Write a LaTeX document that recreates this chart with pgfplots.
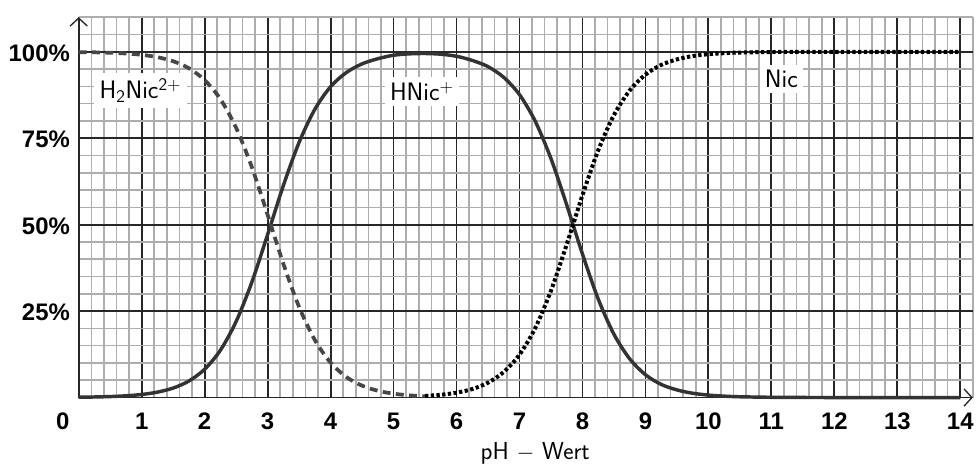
\documentclass[border=0pt]{standalone}
\usepackage{fontspec}
\setmainfont{Liberation Sans}
\usepackage{pgfplots}
\pgfplotsset{compat=1.18}
\usetikzlibrary{arrows.meta}

% fractions of the three nicotine species (in %)
\pgfplotstableread{
ph   val
0    99.9
0.25 99.84
0.5  99.72
0.75 99.5
1    99.12
1.25 98.44
1.5  97.26
1.75 95.23
2    91.82
2.25 86.32
2.5  78.01
2.75 66.61
3    52.87
3.25 38.69
3.5  26.19
3.75 16.63
4    10.09
4.25 5.94
4.5  3.43
4.75 1.96
5    1.11
5.25 0.63
5.5  0.35
}\dataHH

\pgfplotstableread{
ph   val
0    0.09
0.25 0.16
0.5  0.28
0.75 0.5
1    0.88
1.25 1.56
1.5  2.74
1.75 4.77
2    8.18
2.25 13.68
2.5  21.99
2.75 33.39
3    47.13
3.25 61.31
3.5  73.81
3.75 83.37
4    89.9
4.25 94.0
4.5  96.5
4.75 98.0
5    99.0
5.25 99.4
5.5  99.5
5.75 99.3
6    98.7
6.25 97.5
6.5  95.7
6.75 92.6
7    87.6
7.25 79.9
7.5  69.1
7.75 55.7
8    41.5
8.25 28.5
8.5  18.3
8.75 11.2
9    6.6
9.25 3.8
9.5  2.2
9.75 1.24
10   0.7
10.25 0.4
10.5 0.22
11   0.07
11.5 0.02
12   0.0
13   0.0
14   0.0
}\dataH

\pgfplotstableread{
ph   val
5.5  0.45
5.75 0.79
6    1.4
6.25 2.45
6.5  4.3
6.75 7.4
7    12.4
7.25 20.1
7.5  30.9
7.75 44.3
8    58.5
8.25 71.5
8.5  81.7
8.75 88.8
9    93.4
9.25 96.2
9.5  97.8
9.75 98.76
10   99.3
10.25 99.6
10.5 99.78
11   99.93
11.5 99.98
12   100
13   100
14   100
}\dataN

\begin{document}
\begin{tikzpicture}
\path (-59.25pt,-45pt) rectangle (674.25pt,299.25pt);
\begin{axis}[
  at={(0,0)}, anchor=south west,
  scale only axis, width=673.1pt, height=286.3pt,
  xmin=0, xmax=14.2, ymin=0, ymax=110,
  axis lines=left,
  axis line style={line width=1.3pt, black!85},
  x axis line style={-{Straight Barb[length=6pt,width=13pt,line width=1pt]}},
  y axis line style={-{Straight Barb[length=6pt,width=13pt,line width=1pt]}},
  xtick={0,...,14},
  xticklabels={\makebox[0pt][r]{0\hspace{7pt}},1,2,3,4,5,6,7,8,9,10,11,12,13,14},
  ytick={25,50,75,100},
  yticklabels={25\%,50\%,75\%,100\%},
  minor xtick={0.2,0.4,0.6,0.8,1.2,1.4,1.6,1.8,2.2,2.4,2.6,2.8,3.2,3.4,3.6,3.8,
    4.2,4.4,4.6,4.8,5.2,5.4,5.6,5.8,6.2,6.4,6.6,6.8,7.2,7.4,7.6,7.8,
    8.2,8.4,8.6,8.8,9.2,9.4,9.6,9.8,10.2,10.4,10.6,10.8,11.2,11.4,11.6,11.8,
    12.2,12.4,12.6,12.8,13.2,13.4,13.6,13.8,14.2},
  minor ytick={5,10,15,20,30,35,40,45,55,60,65,70,80,85,90,95,105,110},
  tick style={draw=none},
  grid=both,
  major grid style={black!85, line width=1.4pt},
  minor grid style={black!32, line width=1.2pt},
  ticklabel style={font=\bfseries\fontsize{18}{20}\selectfont},
  xticklabel style={yshift=-6pt},
  yticklabel style={xshift=-1pt, yshift=-1pt},
  clip=false,
]
\addplot[smooth, line width=2.6pt, black!80] table[x=ph, y=val] {\dataH};
\addplot[smooth, line width=2.8pt, black!72, dash pattern=on 6pt off 4pt] table[x=ph, y=val] {\dataHH};
\addplot[smooth, line width=3pt, black, dash pattern=on 2.5pt off 1.8pt] table[x=ph, y=val] {\dataN};

\node[fill=white, inner sep=4pt, font=\sffamily\fontsize{19}{21}\selectfont] at (axis cs:0.98,88.8) {H\textsubscript{2}Nic\textsuperscript{2+}};
\node[fill=white, inner sep=4pt, font=\sffamily\fontsize{19}{21}\selectfont] at (axis cs:5.45,88.5) {HNic\textsuperscript{+}};
\node[fill=white, inner sep=4pt, font=\sffamily\fontsize{19}{21}\selectfont] at (axis cs:11.16,92.2) {Nic};
\node[anchor=north, font=\sffamily\fontsize{18.5}{20}\selectfont] at (axis cs:7.25,-11.5) {pH $-$ Wert};
\end{axis}
\end{tikzpicture}
\end{document}
